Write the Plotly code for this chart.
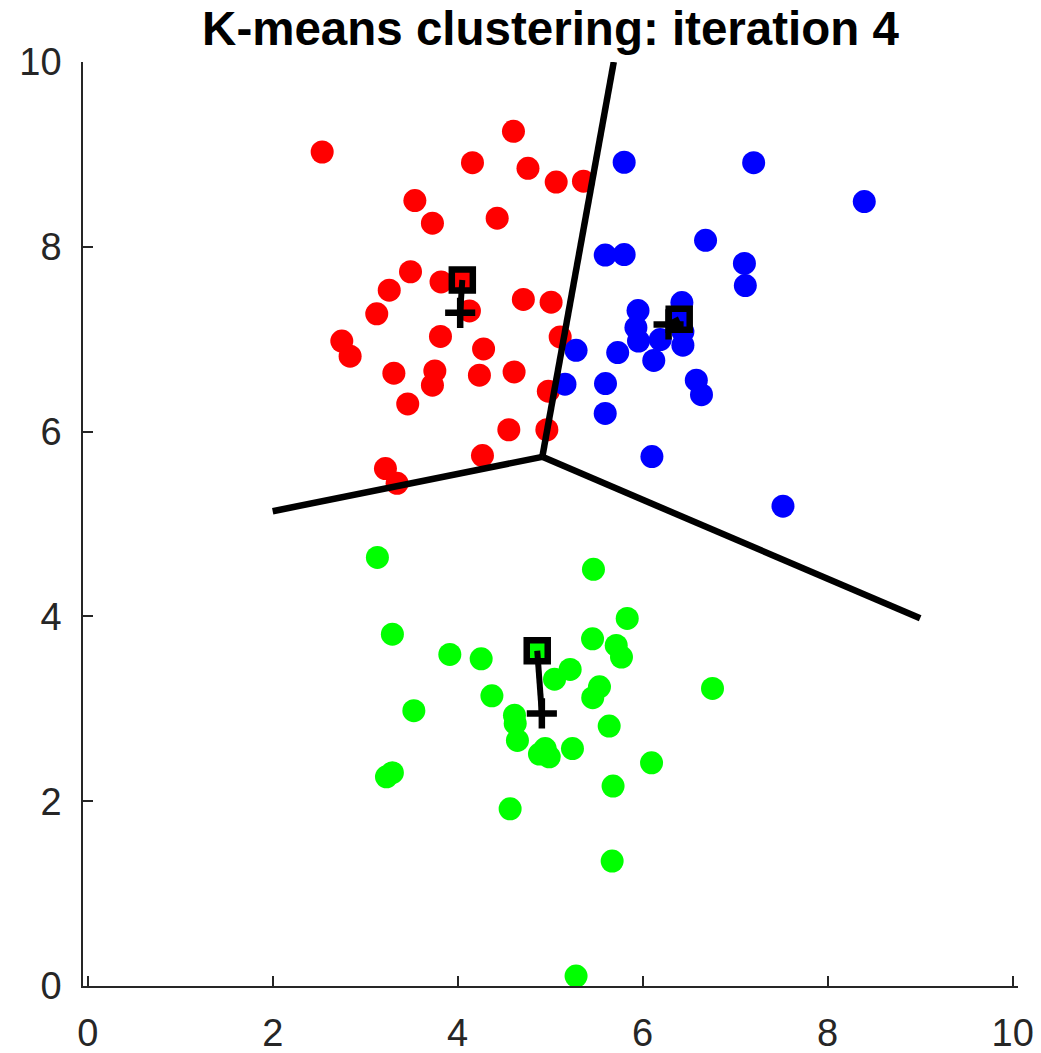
import plotly.graph_objects as go
import numpy as np

# ---- data ----
red_x = [2.535, 4.603, 4.16, 4.76, 5.065, 5.36, 3.537, 3.727, 4.427, 3.49, 3.82, 4.71, 5.01,
         3.26, 3.125, 4.127, 2.747, 2.837, 3.814, 4.28, 5.108, 3.31, 3.753, 3.727, 4.235,
         4.61, 4.98, 3.46, 4.553, 4.964, 4.268, 3.219, 3.345, 4.05]
red_y = [9.026, 9.25, 8.91, 8.85, 8.70, 8.71, 8.50, 8.255, 8.31, 7.73, 7.62, 7.43, 7.40,
         7.53, 7.275, 7.306, 6.98, 6.816, 7.03, 6.895, 7.025, 6.632, 6.657, 6.502, 6.61,
         6.646, 6.437, 6.30, 6.02, 6.02, 5.74, 5.60, 5.44, 7.64]
blue_x = [5.80, 7.20, 8.396, 6.68, 5.595, 5.80, 7.10, 7.11, 6.424, 5.95, 5.927, 6.435, 5.955,
          6.19, 6.435, 5.28, 5.73, 6.12, 6.58, 6.636, 5.16, 5.598, 5.595, 6.10, 7.517, 6.395]
blue_y = [8.915, 8.91, 8.49, 8.07, 7.91, 7.916, 7.82, 7.58, 7.397, 7.31, 7.126, 7.08, 6.98,
          6.996, 6.935, 6.88, 6.856, 6.77, 6.556, 6.40, 6.513, 6.52, 6.196, 5.73, 5.193, 7.216]
green_x = [3.132, 5.468, 5.833, 3.294, 5.458, 5.714, 5.771, 3.915, 4.254, 5.216, 5.047, 5.533,
           5.46, 6.755, 4.37, 3.526, 4.614, 4.622, 5.638, 4.646, 4.946, 4.884, 4.99, 5.241,
           6.096, 3.294, 3.23, 5.68, 4.567, 5.67, 5.28, 4.86]
green_y = [4.638, 4.51, 3.978, 3.808, 3.758, 3.686, 3.56, 3.589, 3.541, 3.426, 3.321, 3.238,
           3.12, 3.22, 3.141, 2.979, 2.929, 2.842, 2.813, 2.658, 2.57, 2.51, 2.48, 2.57,
           2.416, 2.308, 2.264, 2.164, 1.918, 1.352, 0.108, 3.628]

# previous centroids (squares) and new centroids (plus), order: red, blue, green
old_cx = [4.05, 6.395, 4.86]
old_cy = [7.64, 7.216, 3.628]
new_cx = [4.027, 6.28, 4.91]
new_cy = [7.285, 7.16, 2.95]
cluster_colors = ["#FF0000", "#0000FF", "#00FF00"]

# extent of the region in which the decision boundaries were evaluated
grid_xmin, grid_xmax, grid_ymax = 2.0, 9.0, 10.0

x_ticks = [0, 2, 4, 6, 8, 10]
y_ticks = [0, 2, 4, 6, 8, 10]
title_text = "K-means clustering: iteration 4"

# ---- Voronoi boundaries from the previous centroids ----
C = np.array(list(zip(old_cx, old_cy)))


def bisector(i, j):
    # returns (n, c) with n . p = c
    n = C[j] - C[i]
    m = (C[i] + C[j]) / 2
    return n, n @ m


nrg, crg = bisector(0, 2)
nrb, crb = bisector(0, 1)
nbg, cbg = bisector(1, 2)
A = np.array([nrg, nrb])
tp = np.linalg.solve(A, np.array([crg, crb]))

# red-green boundary to x = grid_xmin
y_rg = (crg - nrg[0] * grid_xmin) / nrg[1]
# red-blue boundary to y = grid_ymax
x_rb = (crb - nrb[1] * grid_ymax) / nrb[0]
# blue-green boundary to x = grid_xmax
y_bg = (cbg - nbg[0] * grid_xmax) / nbg[1]

bx = [grid_xmin, tp[0], None, tp[0], x_rb, None, tp[0], grid_xmax]
by = [y_rg, tp[1], None, tp[1], grid_ymax, None, tp[1], y_bg]

fig = go.Figure()
for xs, ys, col in [(red_x, red_y, cluster_colors[0]),
                    (blue_x, blue_y, cluster_colors[1]),
                    (green_x, green_y, cluster_colors[2])]:
    fig.add_trace(go.Scatter(x=xs, y=ys, mode="markers",
                             marker=dict(size=23, color=col, line=dict(width=0)),
                             showlegend=False, hoverinfo="skip", cliponaxis=False))

fig.add_trace(go.Scatter(x=bx, y=by, mode="lines",
                         line=dict(color="black", width=6.5),
                         showlegend=False, hoverinfo="skip"))

# squares (old centroids)
fig.add_trace(go.Scatter(x=old_cx, y=old_cy, mode="markers",
                         marker=dict(symbol="square", size=21, color=cluster_colors,
                                     line=dict(color="black", width=6.5)),
                         showlegend=False, hoverinfo="skip"))

# movement lines
mx, my = [], []
for i in range(3):
    mx += [old_cx[i], new_cx[i], None]
    my += [old_cy[i], new_cy[i], None]
fig.add_trace(go.Scatter(x=mx, y=my, mode="lines",
                         line=dict(color="black", width=6),
                         showlegend=False, hoverinfo="skip"))

# plus (new centroids)
fig.add_trace(go.Scatter(x=new_cx, y=new_cy, mode="markers",
                         marker=dict(symbol="cross-thin", size=21.5,
                                     line=dict(color="black", width=6.5)),
                         showlegend=False, hoverinfo="skip"))

axis_common = dict(showgrid=False, zeroline=False, showline=True, linecolor="#262626",
                   linewidth=1.5, ticks="inside", ticklen=10, tickwidth=1.5,
                   tickcolor="#262626", automargin=False,
                   tickfont=dict(family="Liberation Sans, Arial, sans-serif",
                                 size=38, color="#262626"))

fig.update_layout(
    width=1041, height=1053,
    margin=dict(l=83, r=23, t=62, b=67, autoexpand=False),
    paper_bgcolor="white", plot_bgcolor="white",
    title=dict(text=title_text, x=0.5, xref="paper", y=1 - 28 / 1053,
               yref="container", yanchor="middle", xanchor="center", automargin=False,
               font=dict(family="Liberation Sans, Arial, sans-serif", size=47.5,
                         color="black", weight="bold")),
    xaxis=dict(range=[-0.051, 10.058], tickvals=x_ticks, ticktext=[str(v) for v in x_ticks],
               ticklabelstandoff=13, **axis_common),
    yaxis=dict(range=[0, 10], tickvals=y_ticks, ticktext=[str(v) for v in y_ticks],
               ticklabelstandoff=12, **axis_common),
)

fig.write_html("out.html")
